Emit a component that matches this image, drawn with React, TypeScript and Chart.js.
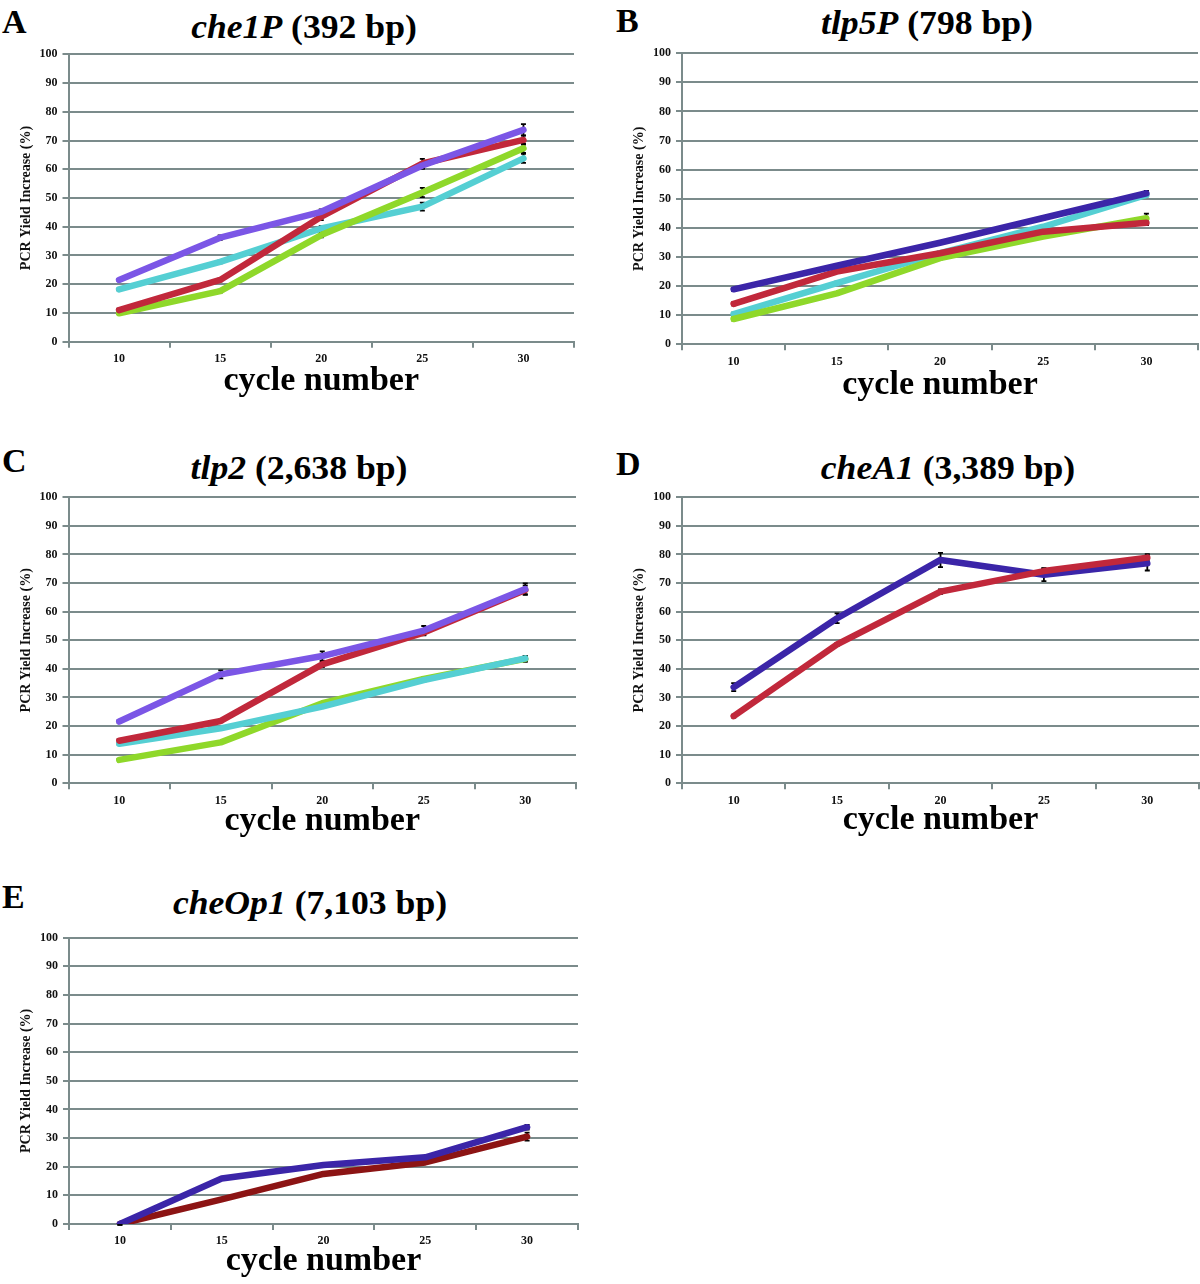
import React, { useEffect, useRef } from "react";
import { Chart, registerables } from "chart.js";
Chart.register(...registerables);

// ---------- data ----------
const cycles = ["10", "15", "20", "25", "30"];
const yTitle = "PCR Yield Increase (%)";
const xTitle = "cycle number";

// A: che1P (392 bp)
const aPurple = [21.5, 36.2, 45.2, 61.3, 73.7];
const aPurpleErr = [0.3, 0.8, 0.8, 1.2, 2.0];
const aRed = [11.0, 21.5, 43.5, 62.0, 70.2];
const aRedErr = [0.5, 0.5, 1.2, 1.6, 1.6];
const aGreen = [9.9, 17.6, 37.1, 51.9, 67.3];
const aGreenErr = [0.3, 0.5, 0.8, 1.6, 1.6];
const aCyan = [18.2, 27.8, 39.4, 47.0, 63.8];
const aCyanErr = [0.3, 0.5, 0.8, 1.4, 1.6];

// B: tlp5P (798 bp)
const bNavy = [18.9, 27.0, 34.9, 43.4, 51.9];
const bNavyErr = [0.5, 0.5, 0.5, 0.5, 0.8];
const bRed = [13.9, 25.0, 31.3, 38.7, 41.8];
const bRedErr = [0.5, 0.5, 0.5, 0.5, 0.8];
const bGreen = [8.7, 17.5, 29.6, 37.0, 43.3];
const bGreenErr = [0.5, 0.5, 0.5, 0.5, 1.6];
const bCyan = [10.4, 21.0, 31.3, 40.4, 51.3];
const bCyanErr = [0.5, 0.5, 0.5, 0.5, 0.5];

// C: tlp2 (2,638 bp)
const cPurple = [21.6, 38.1, 44.5, 53.4, 67.9];
const cPurpleErr = [0.5, 1.4, 1.6, 1.6, 2.0];
const cRed = [14.9, 21.8, 41.6, 52.7, 67.6];
const cRedErr = [0.5, 0.5, 1.0, 1.0, 1.5];
const cGreen = [8.2, 14.3, 28.0, 36.5, 43.5];
const cGreenErr = [0.3, 0.3, 0.5, 0.5, 1.0];
const cCyan = [13.8, 19.2, 26.8, 36.1, 43.7];
const cCyanErr = [0.3, 0.3, 0.5, 0.5, 0.8];

// D: cheA1 (3,389 bp)
const dBlue = [33.6, 57.7, 78.1, 72.9, 76.9];
const dBlueErr = [1.4, 1.7, 2.5, 2.2, 2.5];
const dRed = [23.5, 48.6, 67.0, 74.2, 78.9];
const dRedErr = [0.5, 0.5, 0.8, 1.0, 1.2];

// E: cheOp1 (7,103 bp)
const eBlue = [0.0, 15.9, 20.6, 23.3, 33.8];
const eBlueErr = [0.3, 0.3, 0.3, 0.5, 0.8];
const eDarkRed = [0.0, 8.6, 17.5, 21.5, 30.5];
const eDarkRedErr = [0.3, 0.3, 0.5, 0.5, 1.4];

// ---------- styles ----------
const SERIF = '"Liberation Serif", "Times New Roman", serif';
const GRID = "#7b8b8b";
const PURPLE = "#7b56e6";
const RED = "#c1283b";
const GREEN = "#8fd82a";
const CYAN = "#55cfd3";
const NAVY = "#3b25a8";
const DARKRED = "#8c1414";

type Series = { color: string; values: number[]; errors: number[] };
type Rect = { left: number; right: number; top: number; bottom: number };

const errorBarPlugin = {
  id: "errorBars",
  beforeDatasetsDraw(chart: any) {
    const ctx = chart.ctx;
    const ys = chart.scales.y;
    chart.data.datasets.forEach((ds: any, i: number) => {
      const errs: number[] | undefined = ds.errors;
      if (!errs) return;
      const meta = chart.getDatasetMeta(i);
      meta.data.forEach((pt: any, j: number) => {
        const v = ds.data[j];
        const e = errs[j];
        if (!e) return;
        const x = pt.x;
        const t = ys.getPixelForValue(v + e);
        const b = ys.getPixelForValue(v - e);
        ctx.save();
        ctx.strokeStyle = "#000";
        ctx.lineWidth = 1.8;
        ctx.beginPath();
        ctx.moveTo(x, t);
        ctx.lineTo(x, b);
        ctx.moveTo(x - 2.5, t);
        ctx.lineTo(x + 2.5, t);
        ctx.moveTo(x - 2.5, b);
        ctx.lineTo(x + 2.5, b);
        ctx.stroke();
        ctx.restore();
      });
    });
  },
};

function Panel({ plot, series, titleOffset }: { plot: Rect; series: Series[]; titleOffset: number }) {
  const ref = useRef<HTMLCanvasElement>(null);
  const cx = Math.round(plot.left - 69);
  const cy = Math.round(plot.top - 14);
  const cRight = Math.min(1200, Math.round(plot.right) + 6);
  const cw = cRight - cx;
  const xScaleH = titleOffset + 23.4;
  const ch = Math.round(plot.bottom - cy + xScaleH);

  useEffect(() => {
    if (!ref.current) return;
    const chart = new Chart(ref.current, {
      type: "line",
      data: {
        labels: cycles,
        datasets: series.map((s) => ({
          data: s.values,
          errors: s.errors,
          borderColor: s.color,
          backgroundColor: s.color,
          borderWidth: 6.5,
          borderCapStyle: "round",
          borderJoinStyle: "round",
          pointRadius: 0,
          pointHoverRadius: 0,
          tension: 0,
          fill: false,
        })) as any,
      },
      options: {
        animation: false,
        responsive: false,
        devicePixelRatio: 1,
        events: [],
        layout: {
          padding: { left: 0, top: plot.top - cy, right: cRight - plot.right, bottom: 0 },
        },
        plugins: { legend: { display: false }, tooltip: { enabled: false }, title: { display: false } },
        scales: {
          x: {
            type: "category",
            offset: true,
            grid: { offset: true, drawOnChartArea: false, drawTicks: true, tickLength: 6, color: GRID, lineWidth: 2 },
            border: { display: true, color: GRID, width: 2 },
            ticks: { color: "#111", font: { family: SERIF, size: 12, weight: "bold" }, padding: 4, maxRotation: 0 },
            title: {
              display: true,
              text: xTitle,
              color: "#000",
              font: { family: SERIF, size: 34, weight: "bold" },
              padding: { top: 0, bottom: 3 },
            },
            afterFit: (s: any) => {
              s.height = ch - (plot.bottom - cy);
            },
          },
          y: {
            min: 0,
            max: 100,
            ticks: { stepSize: 10, color: "#111", font: { family: SERIF, size: 12, weight: "bold" }, padding: 5 },
            grid: { color: GRID, lineWidth: 2, tickLength: 6, drawTicks: true },
            border: { display: true, color: GRID, width: 2 },
            title: {
              display: true,
              text: yTitle,
              color: "#111",
              font: { family: SERIF, size: 14, weight: "bold" },
              padding: { top: 17.6, bottom: 0 },
            },
            afterFit: (s: any) => {
              s.width = plot.left - cx;
            },
          },
        },
      } as any,
      plugins: [errorBarPlugin],
    });
    return () => chart.destroy();
  }, []);

  return (
    <canvas
      ref={ref}
      width={cw}
      height={ch}
      style={{ position: "absolute", left: cx, top: cy, width: cw, height: ch }}
    />
  );
}

function Title({ cx, baseline, italic, rest }: { cx: number; baseline: number; italic: string; rest: string }) {
  const fs = 33;
  return (
    <div
      style={{
        position: "absolute",
        left: cx,
        top: baseline - 0.8375 * fs,
        fontFamily: SERIF,
        fontWeight: "bold",
        fontSize: fs,
        lineHeight: `${fs}px`,
        whiteSpace: "nowrap",
        transform: "translateX(-50%) scaleX(1.08)",
        color: "#000",
      }}
    >
      <i>{italic}</i> {rest}
    </div>
  );
}

function Letter({ x, baseline, text }: { x: number; baseline: number; text: string }) {
  const fs = 34;
  return (
    <div
      style={{
        position: "absolute",
        left: x,
        top: baseline - 0.8375 * fs,
        fontFamily: SERIF,
        fontWeight: "bold",
        fontSize: fs,
        lineHeight: `${fs}px`,
        color: "#000",
      }}
    >
      {text}
    </div>
  );
}

export default function App() {
  return (
    <div
      style={{
        position: "absolute",
        left: 0,
        top: 0,
        width: 1200,
        height: 1284,
        overflow: "hidden",
        background: "#fff",
      }}
    >
      <Letter x={2} baseline={33} text="A" />
      <Title cx={303.5} baseline={38.3} italic="che1P" rest="(392 bp)" />
      <Panel
        plot={{ left: 68.5, right: 574, top: 54.3, bottom: 341.7 }}
        titleOffset={40.3}
        series={[
          { color: PURPLE, values: aPurple, errors: aPurpleErr },
          { color: RED, values: aRed, errors: aRedErr },
          { color: GREEN, values: aGreen, errors: aGreenErr },
          { color: CYAN, values: aCyan, errors: aCyanErr },
        ]}
      />

      <Letter x={616} baseline={32} text="B" />
      <Title cx={927} baseline={35} italic="tlp5P" rest="(798 bp)" />
      <Panel
        plot={{ left: 682, right: 1198, top: 53.3, bottom: 344.3 }}
        titleOffset={41.7}
        series={[
          { color: NAVY, values: bNavy, errors: bNavyErr },
          { color: RED, values: bRed, errors: bRedErr },
          { color: GREEN, values: bGreen, errors: bGreenErr },
          { color: CYAN, values: bCyan, errors: bCyanErr },
        ]}
      />

      <Letter x={2} baseline={472} text="C" />
      <Title cx={299} baseline={480} italic="tlp2" rest="(2,638 bp)" />
      <Panel
        plot={{ left: 68.5, right: 576, top: 497.3, bottom: 783.3 }}
        titleOffset={38.7}
        series={[
          { color: PURPLE, values: cPurple, errors: cPurpleErr },
          { color: RED, values: cRed, errors: cRedErr },
          { color: CYAN, values: cCyan, errors: cCyanErr },
          { color: GREEN, values: cGreen, errors: cGreenErr },
        ]}
      />

      <Letter x={616} baseline={475} text="D" />
      <Title cx={948} baseline={480} italic="cheA1" rest="(3,389 bp)" />
      <Panel
        plot={{ left: 682, right: 1199, top: 497.3, bottom: 783.3 }}
        titleOffset={37.7}
        series={[
          { color: RED, values: dRed, errors: dRedErr },
          { color: NAVY, values: dBlue, errors: dBlueErr },
        ]}
      />

      <Letter x={2} baseline={908} text="E" />
      <Title cx={310} baseline={915} italic="cheOp1" rest="(7,103 bp)" />
      <Panel
        plot={{ left: 69, right: 578, top: 937.7, bottom: 1224 }}
        titleOffset={38}
        series={[
          { color: NAVY, values: eBlue, errors: eBlueErr },
          { color: DARKRED, values: eDarkRed, errors: eDarkRedErr },
        ]}
      />
    </div>
  );
}
